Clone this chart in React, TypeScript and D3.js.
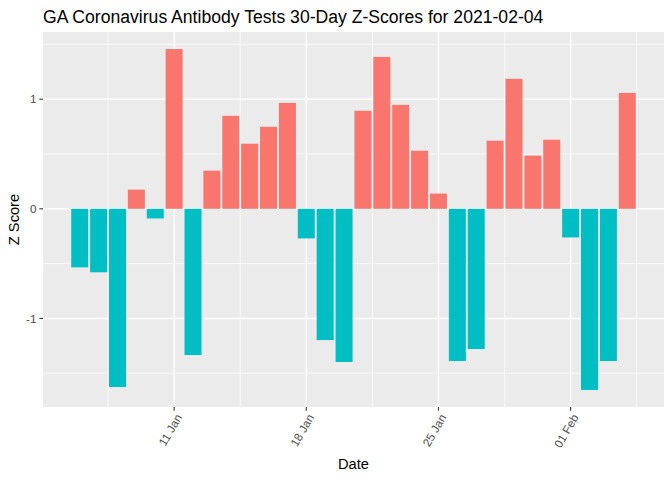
import React from "react";
import * as d3 from "d3";

const dates: string[] = [
  "2021-01-06", "2021-01-07", "2021-01-08", "2021-01-09", "2021-01-10",
  "2021-01-11", "2021-01-12", "2021-01-13", "2021-01-14", "2021-01-15",
  "2021-01-16", "2021-01-17", "2021-01-18", "2021-01-19", "2021-01-20",
  "2021-01-21", "2021-01-22", "2021-01-23", "2021-01-24", "2021-01-25",
  "2021-01-26", "2021-01-27", "2021-01-28", "2021-01-29", "2021-01-30",
  "2021-01-31", "2021-02-01", "2021-02-02", "2021-02-03", "2021-02-04",
];
const zScores: number[] = [
  -0.534, -0.579, -1.625, 0.175, -0.088,
  1.457, -1.334, 0.348, 0.848, 0.594,
  0.748, 0.966, -0.27, -1.197, -1.397,
  0.894, 1.385, 0.948, 0.53, 0.139,
  -1.388, -1.279, 0.621, 1.185, 0.485,
  0.63, -0.261, -1.652, -1.388, 1.057,
];
const xTickDates: string[] = ["2021-01-11", "2021-01-18", "2021-01-25", "2021-02-01"];
const xTickLabels: string[] = ["11 Jan", "18 Jan", "25 Jan", "01 Feb"];
const yTicks: number[] = [-1, 0, 1];
const yMinor: number[] = [-1.5, -0.5, 0.5, 1.5];
const titleText = "GA Coronavirus Antibody Tests 30-Day Z-Scores for 2021-02-04";

const W = 672, H = 480;
const panel = { left: 43, right: 664, top: 32, bottom: 407 };
const DAY = 86400000;
const FONT = "'Liberation Sans', Arial, Helvetica, sans-serif";

export default function App() {
  const parsed = dates.map((d) => new Date(d + "T00:00:00Z").getTime());
  const minD = d3.min(parsed)! - 0.45 * DAY;
  const maxD = d3.max(parsed)! + 0.45 * DAY;
  const span = maxD - minD;
  const x = d3.scaleLinear()
    .domain([minD - 0.05 * span, maxD + 0.05 * span])
    .range([panel.left, panel.right]);
  const yMinV = Math.min(0, d3.min(zScores)!);
  const yMaxV = Math.max(0, d3.max(zScores)!);
  const yspan = yMaxV - yMinV;
  const y = d3.scaleLinear()
    .domain([yMinV - 0.05 * yspan, yMaxV + 0.05 * yspan])
    .range([panel.bottom, panel.top]);

  const majorX = xTickDates.map((d) => new Date(d + "T00:00:00Z").getTime());
  const step = majorX[1] - majorX[0];
  const minorX: number[] = [];
  for (let v = majorX[0] - step / 2; v <= x.domain()[1]; v += step) {
    if (v >= x.domain()[0]) minorX.push(v);
  }

  const barW = x(0.9 * DAY) - x(0);
  const pw = panel.right - panel.left;
  const ph = panel.bottom - panel.top;

  return (
    <svg width={W} height={H} style={{ position: "absolute", left: 0, top: 0, background: "#fff" }} fontFamily={FONT}>
      <text x={panel.left} y={22.5} fontSize={17.6} fill="#000">{titleText}</text>
      <rect x={panel.left} y={panel.top} width={pw} height={ph} fill="#EBEBEB" />
      {yMinor.map((v) => (
        <line key={"ym" + v} x1={panel.left} x2={panel.right} y1={y(v)} y2={y(v)} stroke="#fff" strokeWidth={0.7} />
      ))}
      {minorX.map((v) => (
        <line key={"xm" + v} y1={panel.top} y2={panel.bottom} x1={x(v)} x2={x(v)} stroke="#fff" strokeWidth={0.7} />
      ))}
      {yTicks.map((v) => (
        <line key={"yM" + v} x1={panel.left} x2={panel.right} y1={y(v)} y2={y(v)} stroke="#fff" strokeWidth={1.4} />
      ))}
      {majorX.map((v) => (
        <line key={"xM" + v} y1={panel.top} y2={panel.bottom} x1={x(v)} x2={x(v)} stroke="#fff" strokeWidth={1.4} />
      ))}
      {parsed.map((d, i) => {
        const v = zScores[i];
        const y0 = y(Math.max(0, v));
        const y1 = y(Math.min(0, v));
        return (
          <rect key={i} x={x(d) - barW / 2} width={barW} y={y0} height={y1 - y0}
            fill={v >= 0 ? "#F8766D" : "#00BFC4"} />
        );
      })}
      {yTicks.map((v) => (
        <g key={"yt" + v}>
          <line x1={panel.left - 3.67} x2={panel.left} y1={y(v)} y2={y(v)} stroke="#333333" strokeWidth={1.07} />
          <text x={panel.left - 6.5} y={y(v)} dy="0.35em" textAnchor="end" fontSize={11.7} fill="#4D4D4D">{v}</text>
        </g>
      ))}
      {majorX.map((v, i) => (
        <g key={"xt" + v}>
          <line x1={x(v)} x2={x(v)} y1={panel.bottom} y2={panel.bottom + 3.67} stroke="#333333" strokeWidth={1.07} />
          <text transform={`translate(${x(v) + 1},${panel.bottom + 6}) rotate(-60)`} textAnchor="end" dy="0.72em"
            fontSize={11.7} fill="#4D4D4D">{xTickLabels[i]}</text>
        </g>
      ))}
      <text x={(panel.left + panel.right) / 2} y={469} textAnchor="middle" fontSize={14.67} fill="#000">Date</text>
      <text transform={`translate(19,${(panel.top + panel.bottom) / 2}) rotate(-90)`} textAnchor="middle" fontSize={14.67} fill="#000">Z Score</text>
    </svg>
  );
}
